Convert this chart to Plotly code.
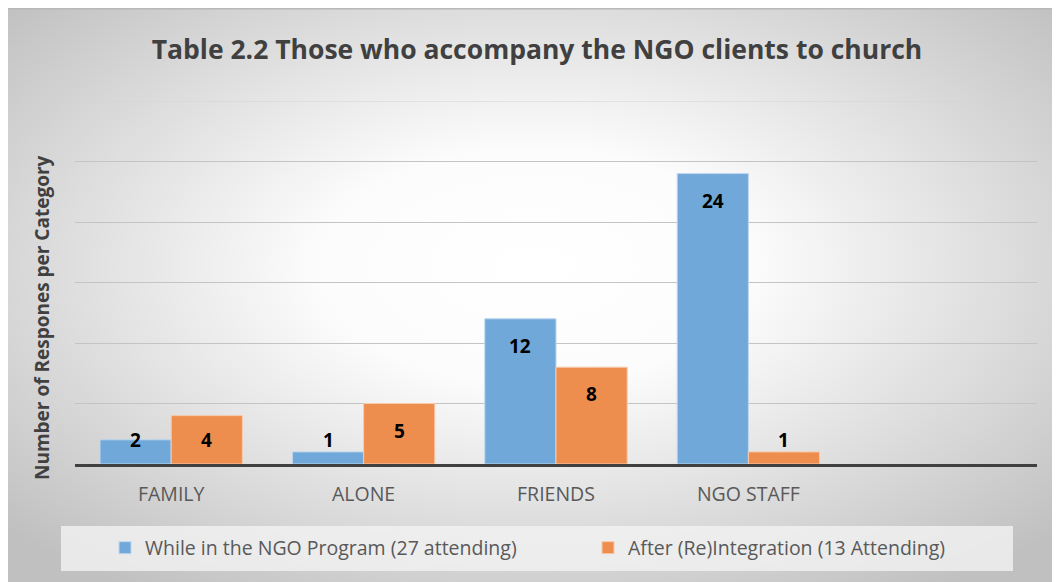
import base64

import plotly.graph_objects as go

categories = ["FAMILY", "ALONE", "FRIENDS", "NGO STAFF", " "]
while_in_program = [2, 1, 12, 24, None]
after_reintegration = [4, 5, 8, 1, None]
series_names = [
    "While in the NGO Program (27 attending)",
    "After (Re)Integration (13 Attending)",
]
title_text = "Table 2.2 Those who accompany the NGO clients to church"
y_title = "Number of Respones per Category"
y_ticks = [0, 5, 10, 15, 20, 25, 30]

# the page body has an 8px margin, so the figure itself is 8px smaller and
# every position below is given in screen pixels and shifted back by OFF
OFF = 8
W, H = 1060 - OFF, 582 - OFF
L, R, T, B = 75 - OFF, 1060 - 1037, 101 - OFF, 582 - 464
pw, ph = W - L - R, H - T - B
BARGAP = 0.26
BLUE, ORANGE = "#70A8DA", "#EE8E4E"


def px_x(x):
    return (x - OFF - L) / pw


def px_y(y):
    return (H - B - (y - OFF)) / ph


# radial grey gradient behind the chart, as an svg data uri
svg = (
    f'<svg xmlns="http://www.w3.org/2000/svg" width="{W}" height="{H}" '
    'preserveAspectRatio="none">'
    '<defs><radialGradient id="g" cx="0.5" cy="0.45" r="0.68">'
    '<stop offset="0" stop-color="#ffffff"/>'
    '<stop offset="0.3" stop-color="#fcfcfc"/>'
    '<stop offset="1" stop-color="#c0c0c0"/>'
    "</radialGradient></defs>"
    f'<rect width="{W}" height="{H}" fill="url(#g)"/>'
    f'<line x1="0" y1="0.75" x2="{W}" y2="0.75" stroke="#b8b8b8" stroke-width="1.5"/>'
    "</svg>"
)
bg_src = "data:image/svg+xml;base64," + base64.b64encode(svg.encode()).decode()

fig = go.Figure()
fig.add_trace(
    go.Bar(
        x=categories,
        y=while_in_program,
        name=series_names[0],
        marker=dict(color=BLUE, line=dict(color="#BDD7EE", width=1)),
        legend="legend",
    )
)
fig.add_trace(
    go.Bar(
        x=categories,
        y=after_reintegration,
        name=series_names[1],
        marker=dict(color=ORANGE, line=dict(color="#F8CBAD", width=1)),
        legend="legend2",
    )
)

# data labels: inside the top of the bar, but never lower than a fixed
# distance above the axis (like the Excel chart)
units_per_px = 30 / ph
half_bar = (1 - BARGAP) / 4
annotations = []
for offset, vals in [(-half_bar, while_in_program), (half_bar, after_reintegration)]:
    for i, v in enumerate(vals):
        if v is None:
            continue
        annotations.append(
            dict(
                x=i + offset,
                y=max(v - 27 * units_per_px, 24 * units_per_px),
                xref="x",
                yref="y",
                text=str(v),
                showarrow=False,
                xanchor="center",
                yanchor="middle",
                font=dict(family="Open Sans", size=19, color="#000000", weight="bold"),
            )
        )

annotations.append(
    dict(
        x=px_x(42),
        y=px_y(318),
        xref="paper",
        yref="paper",
        text=y_title,
        textangle=-90,
        showarrow=False,
        xanchor="center",
        yanchor="middle",
        font=dict(family="Open Sans", size=19, color="#404040", weight="bold"),
    )
)

legend_common = dict(
    orientation="h",
    xanchor="left",
    y=px_y(548),
    yanchor="middle",
    bgcolor="rgba(0,0,0,0)",
    font=dict(family="Open Sans", size=19.5, color="#595959"),
)

fig.update_layout(
    width=W,
    height=H,
    margin=dict(l=L, r=R, t=T, b=B, autoexpand=False),
    paper_bgcolor="#ffffff",
    plot_bgcolor="rgba(0,0,0,0)",
    barmode="group",
    bargap=BARGAP,
    bargroupgap=0,
    font=dict(family="Open Sans", color="#595959"),
    title=dict(
        text=title_text,
        x=(537 - OFF) / W,
        xref="container",
        xanchor="center",
        y=1 - (50 - OFF) / H,
        yanchor="middle",
        font=dict(family="Open Sans", size=26.5, color="#404040", weight="bold"),
    ),
    showlegend=True,
    legend=dict(x=px_x(105), **legend_common),
    legend2=dict(x=px_x(588), **legend_common),
    annotations=annotations,
    images=[
        dict(
            source=bg_src,
            xref="paper",
            yref="paper",
            x=px_x(OFF),
            y=px_y(OFF),
            sizex=W / pw,
            sizey=H / ph,
            xanchor="left",
            yanchor="top",
            sizing="stretch",
            layer="below",
        )
    ],
    shapes=[
        dict(
            type="rect",
            xref="paper",
            yref="paper",
            x0=px_x(61),
            x1=px_x(1013),
            y0=px_y(571),
            y1=px_y(526),
            fillcolor="rgba(242,242,242,0.8)",
            line=dict(width=0),
            layer="below",
        ),
        # top gridline (plotly skips the one on the plot edge)
        dict(
            type="line",
            xref="paper",
            yref="y",
            x0=0,
            x1=1,
            y0=y_ticks[-1],
            y1=y_ticks[-1],
            line=dict(color="#d4d4d4", width=1),
            layer="below",
        ),
    ],
)

fig.update_xaxes(
    showgrid=False,
    showline=True,
    linecolor="#404040",
    linewidth=3,
    ticks="",
    tickfont=dict(family="Open Sans", size=19.5, color="#595959"),
    ticklabelstandoff=11,
    automargin=False,
)
fig.update_yaxes(
    range=[0, 30],
    tickvals=y_ticks,
    showticklabels=False,
    showgrid=True,
    gridcolor="#c4c4c4",
    gridwidth=1,
    zeroline=False,
    showline=False,
    automargin=False,
)

fig.write_html("out.html")
